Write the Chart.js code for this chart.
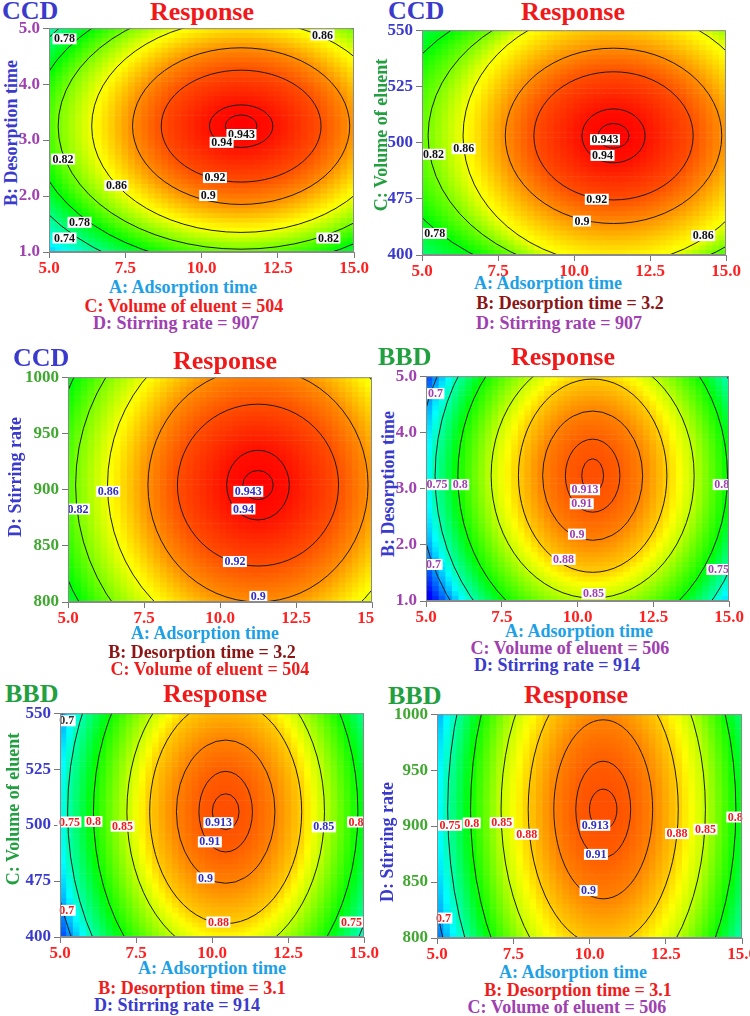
<!DOCTYPE html>
<html>
<head>
<meta charset="utf-8">
<script src="https://cdn.jsdelivr.net/npm/chart.js@4.4.0/dist/chart.umd.min.js"></script>
<style>
html, body { margin: 0; padding: 0; background: #fff; }
#page { position: relative; width: 750px; height: 1016px; overflow: hidden;
        font-family: "Liberation Serif", "Times New Roman", serif; font-weight: bold; }
#clip3 { position: absolute; left: 0; top: 0; width: 375px; height: 1016px; overflow: hidden; }
.txt { position: absolute; white-space: nowrap; transform: translate(-50%, -50%); font-size: 18px; line-height: 1; }
.tag { position: absolute; white-space: nowrap; transform: translateY(-50%); font-size: 26px; line-height: 1; }
.ttl { position: absolute; white-space: nowrap; transform: translate(-50%, -50%); font-size: 26px; line-height: 1; color: #f01818; }
.ytl { position: absolute; white-space: nowrap; transform: translate(-50%, -50%) rotate(-90deg); font-size: 18px; line-height: 1; }
canvas { position: absolute; }
</style>
</head>
<body>
<div id="page"><div id="clip3"></div></div>
<script>
// ---- data ----
const xTickLabels = ['5.0', '7.5', '10.0', '12.5', '15.0'];
const bTickLabels = ['1.0', '2.0', '3.0', '4.0', '5.0'];
const cTickLabels = ['400', '475', '500', '525', '550'];
const dTickLabels = ['800', '850', '900', '950', '1000'];

const ccdLevels = [0.943, 0.94, 0.92, 0.9, 0.86, 0.82, 0.78, 0.74];
const bbdLevels = [0.913, 0.91, 0.9, 0.88, 0.85, 0.8, 0.75, 0.7];
const ccdPeak = 0.9445;
const bbdPeak = 0.9138;

// contour rings: centre and semi-axes (x in A units, y in the panel's y units)
const p1Center = [11.3, 3.25];
const p1SemiA = [0.52, 1.04, 2.62, 3.56, 4.9, 6.0, 6.85, 7.65];
const p1SemiB = [0.2, 0.38, 1.0, 1.4, 1.9, 2.2, 2.5, 2.8];
const p2Center = [11.3, 503];
const p2SemiA = [0.51, 1.04, 2.62, 3.56, 4.95, 6.1, 7.5, 9.0];
const p2SemiB = [5.5, 12, 28.5, 39, 57, 62, 67, 78];
const p3Center = [11.25, 904];
const p3SemiA = [0.5, 1.03, 2.65, 3.62, 4.95, 6.0, 6.9, 7.7];
const p3SemiB = [13, 31, 72, 104, 143, 174, 200, 223];
const p4Center = [10.5, 3.23];
const p4SemiA = [0.36, 0.9, 1.65, 2.45, 3.35, 4.45, 5.2, 5.8];
const p4SemiB = [0.3, 0.65, 1.15, 1.72, 2.18, 2.9, 3.4, 3.8];
const p5Center = [10.45, 506];
const p5SemiA = [0.44, 0.88, 1.62, 2.5, 3.25, 4.35, 5.2, 5.8];
const p5SemiB = [8, 18, 32, 50, 65, 87, 104, 116];
const p6Center = [10.45, 915];
const p6SemiA = [0.45, 0.9, 1.62, 2.46, 3.35, 4.35, 5.1, 5.75];
const p6SemiB = [18, 43, 80, 122, 165, 215, 252, 284];

// contour labels
const p1LabelText = ['0.78', '0.86', '0.82', '0.86', '0.943', '0.94', '0.92', '0.9', '0.78', '0.74', '0.82'];
const p1LabelX = [5.51, 13.97, 5.46, 7.21, 11.31, 10.66, 10.44, 10.22, 6.0, 5.51, 14.16];
const p1LabelY = [4.81, 4.88, 2.66, 2.19, 3.10, 2.96, 2.33, 2.01, 1.53, 1.25, 1.25];
const p2LabelText = ['0.82', '0.86', '0.943', '0.94', '0.92', '0.9', '0.78', '0.86'];
const p2LabelX = [5.38, 6.37, 11.02, 10.94, 10.75, 10.26, 5.42, 14.25];
const p2LabelY = [494.8, 497.3, 501.3, 494.3, 474.8, 465.1, 459.6, 458.6];
const p3LabelText = ['0.86', '0.82', '0.943', '0.94', '0.92', '0.9'];
const p3LabelX = [6.32, 5.33, 10.93, 10.77, 10.49, 11.26];
const p3LabelY = [898.4, 882.7, 898.4, 882.7, 836.0, 805.0];
const p4LabelText = ['0.7', '0.75', '0.8', '0.913', '0.91', '0.9', '0.88', '0.85', '0.7', '0.8', '0.75'];
const p4LabelX = [5.31, 5.36, 6.13, 10.25, 10.14, 9.98, 9.54, 10.53, 5.25, 14.76, 14.65];
const p4LabelY = [4.69, 3.07, 3.07, 2.98, 2.73, 2.19, 1.74, 1.13, 1.65, 3.07, 1.56];
const p5LabelText = ['0.7', '0.75', '0.8', '0.85', '0.913', '0.91', '0.9', '0.88', '0.85', '0.8', '0.7', '0.75'];
const p5LabelX = [5.22, 5.31, 6.10, 7.06, 10.21, 9.93, 9.79, 10.21, 13.68, 14.74, 5.22, 14.59];
const p5LabelY = [546.6, 501.4, 501.6, 499.5, 501.1, 492.5, 476.4, 456.7, 499.2, 501.4, 461.9, 456.7];
const p6LabelText = ['0.75', '0.8', '0.85', '0.88', '0.913', '0.91', '0.9', '0.88', '0.85', '0.8', '0.7'];
const p6LabelX = [5.43, 6.14, 7.12, 7.94, 10.19, 10.21, 9.97, 12.87, 13.80, 14.78, 5.21];
const p6LabelY = [900.7, 902.8, 903.1, 892.7, 900.7, 874.7, 842.4, 893.3, 897.2, 908.1, 817.8];

// ---- styling ----
const RED = '#f01c1c', DARKRED = '#8b1515', PURPLE = '#a040b0', BLUE = '#3a3acc',
      GREEN = '#22a040', CYAN = '#1ea0e6', LBLUE = '#3030c0';
const GRID_N = 46;
const Y_W = 48, X_H = 26, PAD_T = 12, PAD_R = 22;

const panels = [
  { tag: 'CCD', tagColor: BLUE, levels: ccdLevels, peak: ccdPeak, range: [0.62, 0.945],
    center: p1Center, semiA: p1SemiA, semiB: p1SemiB, yMin: 1, yMax: 5, yStep: 1, yTicks: bTickLabels,
    lt: p1LabelText, lx: p1LabelX, ly: p1LabelY, lc: '#111',
    plot: [49, 27, 354, 252], yTickColor: PURPLE,
    tagPos: [2, 11], titlePos: [202, 12],
    yTitle: ['B: Desorption time', BLUE, 11, 133],
    lines: [['A: Adsorption time', CYAN, 183, 287], ['C: Volume of eluent = 504', RED, 184, 306], ['D: Stirring rate = 907', PURPLE, 176, 323]] },
  { tag: 'CCD', tagColor: BLUE, levels: ccdLevels, peak: ccdPeak, range: [0.62, 0.945],
    center: p2Center, semiA: p2SemiA, semiB: p2SemiB, yMin: 450, yMax: 550, yStep: 25, yTicks: cTickLabels,
    lt: p2LabelText, lx: p2LabelX, ly: p2LabelY, lc: '#111',
    plot: [422, 29, 726, 255], yTickColor: BLUE,
    tagPos: [388, 11], titlePos: [573, 12],
    yTitle: ['C: Volume of eluent', GREEN, 381, 135],
    lines: [['A: Adsorption time', CYAN, 548, 283], ['B: Desorption time = 3.2', DARKRED, 570, 303], ['D: Stirring rate = 907', PURPLE, 559, 323]] },
  { tag: 'CCD', tagColor: BLUE, levels: ccdLevels, peak: ccdPeak, range: [0.62, 0.945], clip: true,
    center: p3Center, semiA: p3SemiA, semiB: p3SemiB, yMin: 800, yMax: 1000, yStep: 50, yTicks: dTickLabels,
    lt: p3LabelText, lx: p3LabelX, ly: p3LabelY, lc: LBLUE,
    plot: [68, 376, 372, 602], yTickColor: '#40a830',
    tagPos: [13, 358], titlePos: [225, 361],
    yTitle: ['D: Stirring rate', BLUE, 15, 477],
    lines: [['A: Adsorption time', CYAN, 205, 633], ['B: Desorption time = 3.2', DARKRED, 202, 652], ['C: Volume of eluent = 504', RED, 210, 669]] },
  { tag: 'BBD', tagColor: GREEN, levels: bbdLevels, peak: bbdPeak, range: [0.66, 0.935],
    center: p4Center, semiA: p4SemiA, semiB: p4SemiB, yMin: 1, yMax: 5, yStep: 1, yTicks: bTickLabels,
    lt: p4LabelText, lx: p4LabelX, ly: p4LabelY, lc: PURPLE,
    plot: [426, 375, 729, 601], yTickColor: PURPLE,
    tagPos: [378, 357], titlePos: [563, 357],
    yTitle: ['B: Desorption time', BLUE, 388, 484],
    lines: [['A: Adsorption time', CYAN, 579, 631], ['C: Volume of eluent = 506', PURPLE, 570, 648], ['D: Stirring rate = 914', BLUE, 557, 665]] },
  { tag: 'BBD', tagColor: GREEN, levels: bbdLevels, peak: bbdPeak, range: [0.66, 0.935],
    center: p5Center, semiA: p5SemiA, semiB: p5SemiB, yMin: 450, yMax: 550, yStep: 25, yTicks: cTickLabels,
    lt: p5LabelText, lx: p5LabelX, ly: p5LabelY,
    lc: ['#333', RED, RED, RED, LBLUE, LBLUE, LBLUE, RED, LBLUE, RED, RED, RED],
    plot: [60, 712, 364, 937], yTickColor: BLUE,
    tagPos: [5, 694], titlePos: [215, 694],
    yTitle: ['C: Volume of eluent', GREEN, 13, 809],
    lines: [['A: Adsorption time', CYAN, 212, 968], ['B: Desorption time = 3.1', RED, 192, 988], ['D: Stirring rate = 914', BLUE, 177, 1005]] },
  { tag: 'BBD', tagColor: GREEN, levels: bbdLevels, peak: bbdPeak, range: [0.66, 0.935],
    center: p6Center, semiA: p6SemiA, semiB: p6SemiB, yMin: 800, yMax: 1000, yStep: 50, yTicks: dTickLabels,
    lt: p6LabelText, lx: p6LabelX, ly: p6LabelY,
    lc: [RED, RED, RED, RED, LBLUE, LBLUE, LBLUE, RED, RED, RED, RED],
    plot: [437, 713, 742, 938], yTickColor: '#40a830',
    tagPos: [388, 696], titlePos: [576, 695],
    yTitle: ['D: Stirring rate', BLUE, 387, 842],
    lines: [['A: Adsorption time', CYAN, 573, 972], ['B: Desorption time = 3.1', RED, 578, 990], ['C: Volume of eluent = 506', PURPLE, 567, 1007]] }
];

// value of the response surface between the read contour rings
function surfaceValue(p, x, y) {
  const n = p.levels.length;
  const s = p.levels.map((_, i) => Math.hypot((x - p.center[0]) / p.semiA[i], (y - p.center[1]) / p.semiB[i]));
  if (s[0] <= 1) return p.peak - (p.peak - p.levels[0]) * s[0] * s[0];
  for (let i = 0; i < n - 1; i++) {
    if (s[i + 1] <= 1) {
      const t = (s[i] - 1) / (s[i] / s[i + 1] - 1);
      return p.levels[i] + (p.levels[i + 1] - p.levels[i]) * t;
    }
  }
  const i = n - 2;
  const t = Math.min(3, (s[i] - 1) / (s[i] / s[i + 1] - 1));
  return p.levels[i] + (p.levels[i + 1] - p.levels[i]) * t;
}

const stops = [[0, 0, 0, 255], [0.25, 0, 255, 255], [0.5, 0, 255, 0], [0.75, 255, 255, 0], [1, 255, 0, 0]];
function colorFor(v, range) {
  let t = (v - range[0]) / (range[1] - range[0]);
  t = Math.max(0, Math.min(1, t));
  for (let k = 1; k < stops.length; k++) {
    if (t <= stops[k][0]) {
      const a = stops[k - 1], b = stops[k];
      const f = (t - a[0]) / (b[0] - a[0]);
      return 'rgb(' + [1, 2, 3].map(c => Math.round(a[c] + (b[c] - a[c]) * f)).join(',') + ')';
    }
  }
  return 'rgb(255,0,0)';
}

const page = document.getElementById('page');
const clip3 = document.getElementById('clip3');

function addText(cls, text, color, x, y) {
  const d = document.createElement('div');
  d.className = cls;
  d.textContent = text;
  d.style.color = color;
  d.style.left = x + 'px';
  d.style.top = y + 'px';
  page.appendChild(d);
}

panels.forEach(p => {
  addText('tag', p.tag, p.tagColor, p.tagPos[0], p.tagPos[1]);
  addText('ttl', 'Response', '#f01818', p.titlePos[0], p.titlePos[1]);
  addText('ytl', p.yTitle[0], p.yTitle[1], p.yTitle[2], p.yTitle[3]);
  p.lines.forEach(l => addText('txt', l[0], l[1], l[2], l[3]));

  const [L, T, R, B] = p.plot;
  const w = (R - L) + Y_W + PAD_R, h = (B - T) + PAD_T + X_H;
  const cv = document.createElement('canvas');
  cv.width = w; cv.height = h;
  cv.style.left = (L - Y_W) + 'px';
  cv.style.top = (T - PAD_T) + 'px';
  cv.style.width = w + 'px';
  cv.style.height = h + 'px';
  (p.clip ? clip3 : page).appendChild(cv);

  // heat map cells as floating bars
  const dx = 10 / GRID_N, dy = (p.yMax - p.yMin) / GRID_N;
  const cells = [], colors = [];
  for (let j = 0; j < GRID_N; j++) {
    for (let i = 0; i < GRID_N; i++) {
      const xc = 5 + (i + 0.5) * dx, y0 = p.yMin + j * dy;
      cells.push({ x: xc, y: [y0, y0 + dy * 1.12] });
      colors.push(colorFor(surfaceValue(p, xc, y0 + dy / 2), p.range));
    }
  }

  const contourPlugin = {
    id: 'contours',
    afterDatasetsDraw(chart) {
      const ctx = chart.ctx, xs = chart.scales.x, ys = chart.scales.y, a = chart.chartArea;
      ctx.save();
      ctx.beginPath();
      ctx.rect(a.left, a.top, a.right - a.left, a.bottom - a.top);
      ctx.clip();
      const cx = xs.getPixelForValue(p.center[0]), cy = ys.getPixelForValue(p.center[1]);
      p.semiA.forEach((sa, i) => {
        const rx = Math.abs(xs.getPixelForValue(p.center[0] + sa) - cx);
        const ry = Math.abs(ys.getPixelForValue(p.center[1] + p.semiB[i]) - cy);
        ctx.beginPath();
        ctx.ellipse(cx, cy, rx, ry, 0, 0, Math.PI * 2);
        ctx.strokeStyle = '#1c1c1c';
        ctx.lineWidth = 1;
        ctx.stroke();
      });
      ctx.restore();

      ctx.save();
      ctx.font = 'bold 12px "Liberation Serif"';
      ctx.textAlign = 'center';
      ctx.textBaseline = 'middle';
      p.lt.forEach((t, i) => {
        const x = xs.getPixelForValue(p.lx[i]), y = ys.getPixelForValue(p.ly[i]);
        const tw = ctx.measureText(t).width + 3;
        ctx.fillStyle = '#fff';
        ctx.fillRect(x - tw / 2, y - 5.5, tw, 11);
        ctx.fillStyle = Array.isArray(p.lc) ? p.lc[i] : p.lc;
        ctx.fillText(t, x, y + 0.5);
      });
      ctx.strokeStyle = '#8a8a8a';
      ctx.lineWidth = 1;
      ctx.strokeRect(a.left + 0.5, a.top + 0.5, a.right - a.left - 1, a.bottom - a.top - 1);
      ctx.restore();
    }
  };

  const tickFont = { family: '"Liberation Serif", serif', size: 17, weight: 'bold' };
  new Chart(cv, {
    type: 'bar',
    data: {
      datasets: [{
        data: cells,
        backgroundColor: colors,
        borderWidth: 0,
        barPercentage: 1.12,
        categoryPercentage: 1,
        grouped: false,
        clip: 0
      }]
    },
    options: {
      responsive: false,
      animation: false,
      devicePixelRatio: 1,
      events: [],
      layout: { padding: { top: PAD_T, right: PAD_R, left: 0, bottom: 0 } },
      plugins: { legend: { display: false }, tooltip: { enabled: false } },
      scales: {
        x: {
          type: 'linear', min: 5, max: 15, offset: false,
          afterFit: s => { s.height = X_H; },
          ticks: { stepSize: 2.5, callback: (v, i) => xTickLabels[i], color: '#ff2020', font: tickFont,
                   padding: 0, maxRotation: 0, autoSkip: false },
          grid: { offset: false, drawOnChartArea: false, tickLength: 6, color: '#777' },
          border: { color: '#8a8a8a' }
        },
        y: {
          type: 'linear', min: p.yMin, max: p.yMax,
          afterFit: s => { s.width = Y_W; },
          ticks: { stepSize: p.yStep, callback: (v, i) => p.yTicks[i], color: p.yTickColor, font: tickFont,
                   padding: 3, autoSkip: false },
          grid: { drawOnChartArea: false, tickLength: 6, color: '#777' },
          border: { color: '#8a8a8a' }
        }
      }
    },
    plugins: [contourPlugin]
  });
});
</script>
</body>
</html>
